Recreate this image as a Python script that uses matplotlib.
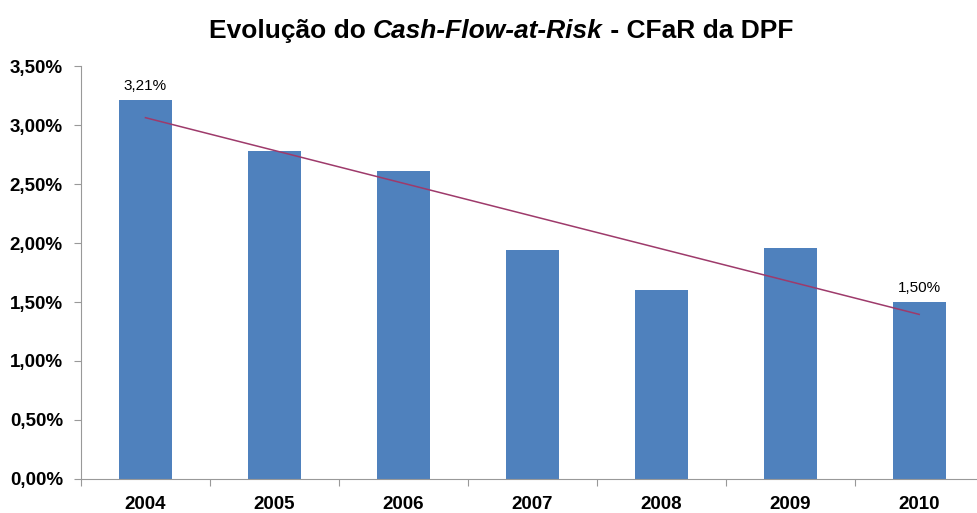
import numpy as np
import matplotlib.pyplot as plt
from matplotlib.ticker import FuncFormatter

plt.rcParams['font.family'] = ['Liberation Sans', 'DejaVu Sans']

years = ['2004', '2005', '2006', '2007', '2008', '2009', '2010']
cfar = [3.21, 2.78, 2.61, 1.94, 1.60, 1.96, 1.50]  # %
labelled = {0: '3,21%', 6: '1,50%'}

x = np.arange(len(years))
y = np.array(cfar) / 100

fig = plt.figure(figsize=(9.78, 5.13), dpi=100)
ax = fig.add_axes([0.0828, 0.0663, 0.923, 0.805])

ax.bar(x, y, width=0.41, color='#4F81BD', zorder=2)

# linear trend line
k, b = np.polyfit(x, y, 1)
ax.plot([x[0], x[-1]], [k * x[0] + b, k * x[-1] + b], color='#9E3A6B', lw=1.1, zorder=3)

for i, txt in labelled.items():
    ax.annotate(txt, (x[i], y[i]), xytext=(0, 5), textcoords='offset points',
                ha='center', va='bottom', fontsize=11)

ax.set_xlim(-0.5, len(years) - 0.5)
ax.set_ylim(0, 0.035)
ax.set_yticks(np.arange(0, 0.0351, 0.005))
ax.yaxis.set_major_formatter(FuncFormatter(lambda v, p: f'{v*100:.2f}%'.replace('.', ',')))

ax.set_xticks(np.arange(-0.5, len(years), 1))
ax.set_xticklabels([])
ax.set_xticks(x, minor=True)
ax.set_xticklabels(years, minor=True)
ax.tick_params(axis='x', which='minor', length=0, pad=12, labelsize=13.5)
ax.tick_params(axis='x', which='major', length=5, color='#999999', direction='out')
ax.tick_params(axis='y', length=5, color='#999999', labelsize=13.5, pad=8)
for t in ax.get_xticklabels(minor=True) + ax.get_yticklabels():
    t.set_fontweight('bold')

for s in ['top', 'right']:
    ax.spines[s].set_visible(False)
for s in ['left', 'bottom']:
    ax.spines[s].set_color('#999999')

# title with italic part
parts = [('Evolução do ', 'normal'), ('Cash-Flow-at-Risk', 'italic'), (' - CFaR da DPF', 'normal')]
fig.canvas.draw()
r = fig.canvas.get_renderer()
texts = []
for s, st in parts:
    t = fig.text(0, 0.94, s, fontsize=19, fontweight='bold', style=st, va='center')
    texts.append(t)
widths = [t.get_window_extent(r).width for t in texts]
x0 = (fig.bbox.width - sum(widths)) / 2 + 12
for t, w in zip(texts, widths):
    t.set_x(x0 / fig.bbox.width)
    x0 += w

fig.savefig('out.png', dpi=100)
